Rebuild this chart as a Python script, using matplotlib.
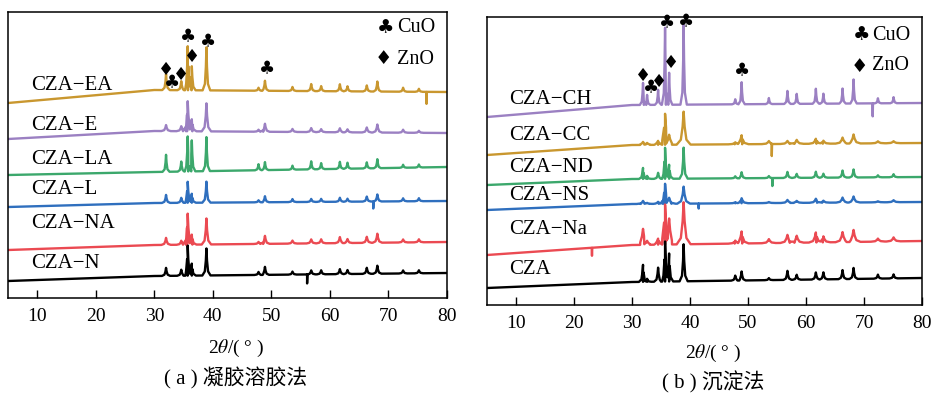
import numpy as np
import matplotlib
matplotlib.use("Agg")
import matplotlib.pyplot as plt

plt.rcParams['font.family'] = ['Liberation Serif', 'DejaVu Sans']
plt.rcParams['mathtext.fontset'] = 'stix'

# ---- data (intensity in a.u., offset traces) ----
xlim = (5, 80)
ticks = [10, 20, 30, 40, 50, 60, 70, 80]
base_x = [5, 30, 80]

# (a) sol-gel
names_a = ['CZA−EA', 'CZA−E', 'CZA−LA', 'CZA−L', 'CZA−NA', 'CZA−N']
colors_a = ['#C9972F', '#9B80C2', '#3CA86C', '#2F6FBE', '#EB4A52', '#000000']
base_a = [[195, 208, 206], [159, 167, 165], [123, 126, 131],
          [91, 95, 97], [48, 53, 56], [17, 22, 25]]
peaks_a = [32.0, 34.6, 35.7, 36.4, 38.9, 47.8, 48.9, 53.6, 56.8, 58.5,
           61.7, 63.0, 66.3, 68.1, 72.5, 75.2]
heights_a = [
    [16, 9, 44, 24, 43, 3, 10, 4, 7, 5, 7, 5, 6, 10, 4, 3],
    [6, 5, 30, 12, 28, 2, 8, 3, 4, 3, 4, 3, 5, 8, 3, 2],
    [17, 10, 35, 31, 34, 6, 8, 4, 8, 6, 7, 6, 6, 9, 3, 3],
    [8, 5, 21, 9, 21, 2, 6, 3, 3, 3, 4, 3, 5, 7, 3, 3],
    [7, 4, 31, 10, 26, 2, 8, 3, 4, 4, 6, 4, 6, 9, 3, 3],
    [8, 6, 30, 12, 27, 3, 8, 3, 4, 4, 5, 4, 6, 8, 3, 3],
]
widths_a = [0.65, 0.8, 0.6, 0.7, 0.8, 0.7]
spikes_a = [[(76.5, -12)], [], [], [(67.4, -7)], [], [(56.1, -9)]]
label_y_a = [212, 172, 138, 109, 75, 34]

# (b) precipitation
names_b = ['CZA−CH', 'CZA−CC', 'CZA−ND', 'CZA−NS', 'CZA−Na', 'CZA']
colors_b = ['#9B80C2', '#C9972F', '#3CA86C', '#2F6FBE', '#EB4A52', '#000000']
base_b = [[188, 200, 202], [150, 160, 162], [120, 126, 128],
          [95, 101, 103], [50, 60, 64], [17, 23, 27]]
peaks_b = [31.9, 32.6, 34.5, 35.7, 36.4, 38.9, 47.8, 48.9, 53.6, 56.8,
           58.4, 61.7, 63.0, 66.3, 68.2, 72.4, 75.1]
heights_b = [
    [22, 10, 15, 77, 32, 80, 5, 22, 6, 13, 10, 15, 10, 15, 24, 5, 6],
    [3, 2, 4, 31, 10, 33, 2, 9, 3, 3, 4, 5, 3, 6, 9, 2, 2],
    [11, 3, 6, 31, 14, 31, 2, 6, 2, 6, 4, 6, 4, 7, 8, 2, 3],
    [3, 1, 2, 20, 6, 17, 1, 5, 1, 3, 2, 4, 2, 5, 6, 1, 2],
    [16, 4, 6, 40, 26, 42, 3, 12, 4, 8, 7, 10, 6, 10, 12, 3, 4],
    [17, 3, 14, 40, 28, 37, 5, 9, 2, 9, 5, 7, 7, 9, 11, 4, 4],
]
widths_b = [0.55, 1.2, 0.7, 1.1, 1.2, 0.7]
spikes_b = [[(71.5, -13)], [(54.1, -12)], [(54.2, -8)], [(41.5, -5)],
            [(23.1, -8)], []]
label_y_b = [206, 169, 138, 109, 75, 35]

# phase markers: (symbol, 2theta, height)
marks_a = [('♦', 32.0, 228), ('♣', 33.1, 215), ('♦', 34.6, 223),
           ('♣', 35.8, 261), ('♦', 36.5, 241), ('♣', 39.1, 256),
           ('♣', 49.2, 229)]
marks_b = [('♦', 31.9, 229), ('♣', 33.2, 217), ('♦', 34.6, 223),
           ('♣', 36.0, 282), ('♦', 36.7, 242), ('♣', 39.3, 283),
           ('♣', 48.9, 234)]


def trace(base, peaks, heights, w, spikes):
    # polyline: baseline anchors + a pointed profile for each reflection
    xs = list(base_x)
    pts = []
    for p, h in zip(peaks, heights):
        pts += [(p - w, 0), (p - w / 2.5, 0.15 * h), (p - w / 7, 0.55 * h),
                (p, h), (p + w / 7, 0.55 * h), (p + w / 2.5, 0.15 * h),
                (p + w, 0)]
    for p, d in spikes:
        pts += [(p - 0.05, 0), (p, d), (p + 0.05, 0)]
    xs = xs + [q[0] for q in pts]
    order = np.argsort(xs, kind='stable')
    x = np.array(xs)[order]
    add = np.array([0.0] * len(base_x) + [q[1] for q in pts])[order]
    y = np.interp(x, base_x, base) + add
    return x, y


def panel(ax, names, colors, base, peaks, heights, widths, spikes,
          label_y, marks, ytop):
    for i in range(len(names)):
        x, y = trace(base[i], peaks, heights[i], widths[i], spikes[i])
        ax.plot(x, y, color=colors[i], lw=1.7, solid_joinstyle='round')
        ax.text(8.9, label_y[i], names[i], fontsize=15, va='center', ha='left')
    for s, x, y in marks:
        ax.text(x, y, s, fontsize=13, family='DejaVu Sans',
                ha='center', va='center')
    ax.text(69.5, 270, '♣', fontsize=14, family='DejaVu Sans',
            ha='center', va='center')
    ax.text(71.4, 270, 'CuO', fontsize=14.5, ha='left', va='center')
    ax.text(69.2, 239, '♦', fontsize=14, family='DejaVu Sans',
            ha='center', va='center')
    ax.text(71.4, 239, 'ZnO', fontsize=14.5, ha='left', va='center')
    ax.set_xlim(*xlim)
    ax.set_ylim(0, ytop)
    ax.set_xticks(ticks)
    ax.set_yticks([])
    ax.tick_params(axis='x', direction='in', length=6, width=1,
                   labelsize=14, pad=7)
    for sp in ax.spines.values():
        sp.set_linewidth(1.1)


W, H = 933, 393
fig = plt.figure(figsize=(W / 100, H / 100), dpi=100)
ax1 = fig.add_axes([8 / W, 1 - 298 / H, 439 / W, 286 / H])
ax2 = fig.add_axes([487 / W, 1 - 305 / H, 435 / W, 288 / H])

panel(ax1, names_a, colors_a, base_a, peaks_a, heights_a, widths_a,
      spikes_a, label_y_a, marks_a, 286)
panel(ax2, names_b, colors_b, base_b, peaks_b, heights_b, widths_b,
      spikes_b, label_y_b, marks_b, 288)

cjk = ['Liberation Serif', 'Noto Sans CJK SC']
fig.text(236 / W, 1 - 348 / H, r'2$\theta$/( ° )', fontsize=14,
         ha='center', va='center')
fig.text(236 / W, 1 - 378 / H, '( a ) 凝胶溶胶法', fontsize=15,
         ha='center', va='center', family=cjk)
fig.text(713 / W, 1 - 353 / H, r'2$\theta$/( ° )', fontsize=14,
         ha='center', va='center')
fig.text(713 / W, 1 - 382 / H, '( b ) 沉淀法', fontsize=15,
         ha='center', va='center', family=cjk)

fig.savefig('out.png', dpi=100)
